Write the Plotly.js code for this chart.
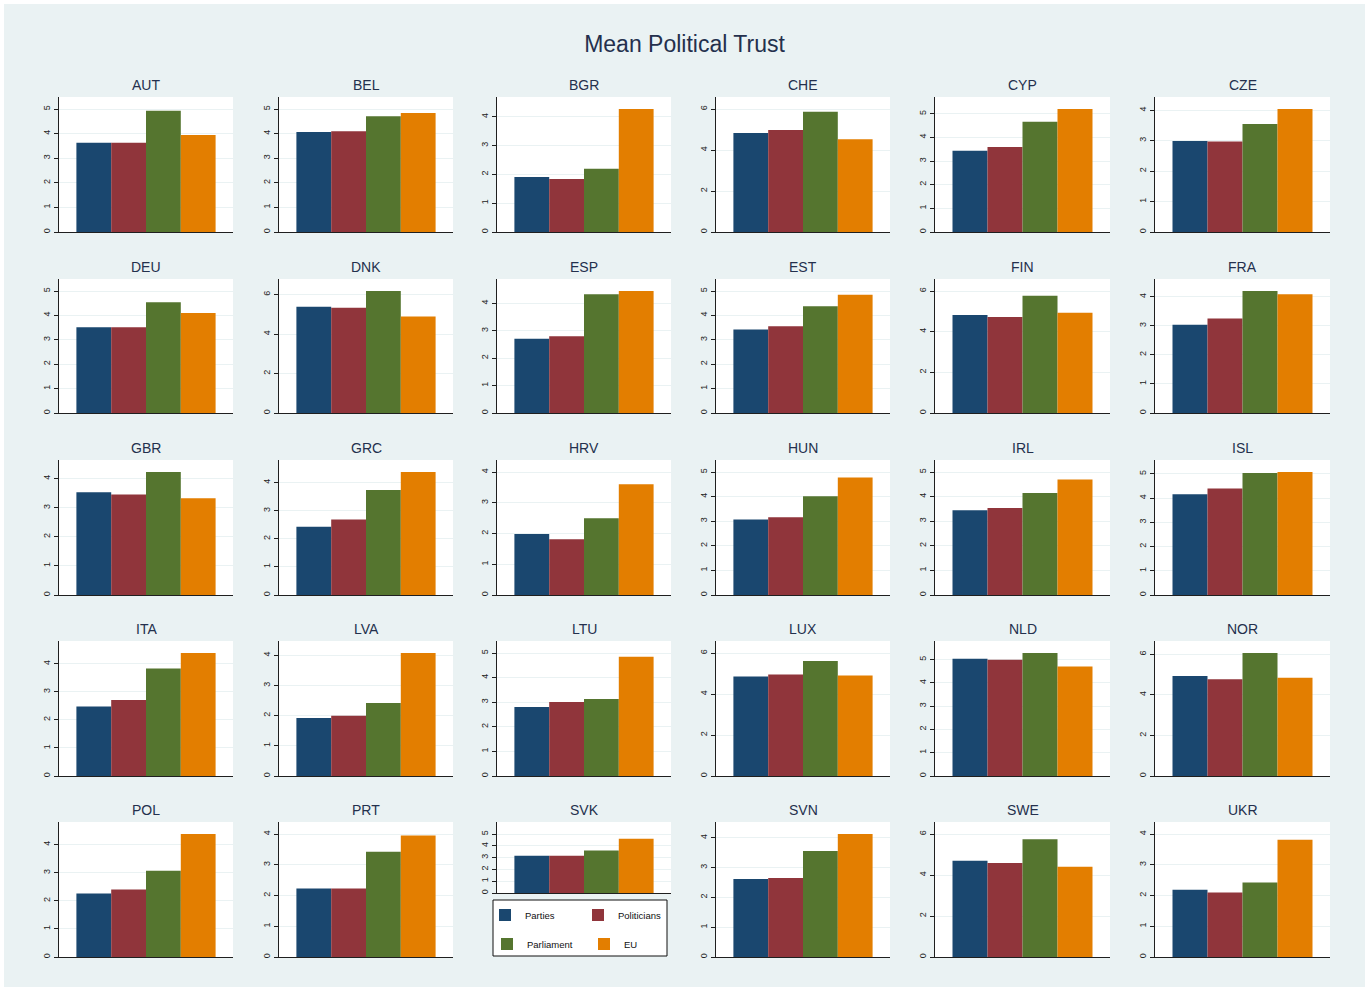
<!DOCTYPE html>
<html>
<head>
<meta charset="utf-8">
<script src="https://cdn.plot.ly/plotly-3.0.1.min.js"></script>
<style>
  html, body { margin:0; padding:0; background:#ffffff; }
  #chart { position:absolute; left:4px; top:4px; width:1361px; height:983px; }
</style>
</head>
<body>
<div id="chart"></div>
<script>
// ---- Data ----
const countries = ['AUT','BEL','BGR','CHE','CYP','CZE',
                   'DEU','DNK','ESP','EST','FIN','FRA',
                   'GBR','GRC','HRV','HUN','IRL','ISL',
                   'ITA','LVA','LTU','LUX','NLD','NOR',
                   'POL','PRT','SVK','SVN','SWE','UKR'];
const parties     = [3.63,4.06,1.91,4.83,3.44,2.99, 3.51,5.38,2.71,3.42,4.82,3.04, 3.53,2.43,1.98,3.07,3.45,4.16, 2.48,1.92,2.80,4.85,5.03,4.93, 2.26,2.23,3.15,2.62,4.69,2.19];
const politicians = [3.63,4.10,1.84,4.98,3.59,2.97, 3.51,5.33,2.80,3.56,4.72,3.25, 3.46,2.69,1.81,3.16,3.54,4.40, 2.71,2.00,3.01,4.95,4.99,4.78, 2.40,2.23,3.15,2.65,4.59,2.10];
const parliament  = [4.93,4.71,2.20,5.86,4.66,3.55, 4.54,6.18,4.33,4.37,5.77,4.20, 4.23,3.74,2.50,4.01,4.15,5.04, 3.84,2.42,3.13,5.61,5.28,6.07, 3.07,3.42,3.61,3.56,5.75,2.42];
const eu          = [3.94,4.84,4.27,4.52,5.20,4.04, 4.10,4.89,4.45,4.85,4.93,4.09, 3.33,4.38,3.60,4.78,4.70,5.08, 4.39,4.08,4.85,4.90,4.70,4.85, 4.38,3.95,4.60,4.13,4.40,3.81];
const seriesNames = ['Parties','Politicians','Parliament','EU'];
const chartTitle = 'Mean Political Trust';

// ---- Styling / layout ----
const seriesColors = ['#1a476f','#90353b','#55752f','#e37e00'];
const seriesData = [parties, politicians, parliament, eu];
const W = 1361, H = 983, OX = 4, OY = 4;
const fx = X => (X - OX) / W;
const fy = Y => 1 - (Y - OY) / H;
const colX = [[59,233],[279,453],[497,671],[716,890],[935,1110],[1155,1330]];
const rowY = [[97,232],[279,413],[460,595],[641,776],[822,957]];
const narrow = '"Liberation Sans Narrow", "Arial Narrow", "Liberation Sans", Arial, sans-serif';
const sans = '"Liberation Sans", Arial, sans-serif';
const titleColor = '#24304d';

const traces = [];
const layout = {
  width: W, height: H,
  margin: {l:0, r:0, t:0, b:0},
  paper_bgcolor: '#eaf2f3',
  plot_bgcolor: '#ffffff',
  barmode: 'group',
  bargap: 0.2,
  bargroupgap: 0,
  showlegend: true,
  title: {text: chartTitle, x: 0.5, xanchor: 'center', y: fy(44), yanchor: 'middle',
          font: {family: narrow, size: 23, color: titleColor}},
  annotations: [],
  shapes: []
};

countries.forEach((cty, i) => {
  const r = Math.floor(i / 6), c = i % 6;
  const id = i === 0 ? '' : String(i + 1);
  const x0 = colX[c][0], x1 = colX[c][1];
  let y0 = rowY[r][0], y1 = rowY[r][1];
  if (cty === 'SVK') { y1 = 893; }
  const vals = seriesData.map(s => s[i]);
  const dmax = Math.max(...vals);
  const dtick = dmax > 5.5 ? 2 : 1;
  const topTick = Math.round(dmax / dtick) * dtick;
  const M = Math.max(topTick, dmax);
  const hpx = y1 - y0;
  const top = M * hpx / (hpx - 12);
  const tv = [];
  for (let t = 0; t <= topTick + 1e-9; t += dtick) tv.push(t);

  layout['xaxis' + id] = {
    domain: [fx(x0), fx(x1)], anchor: 'y' + id, type: 'category',
    showticklabels: false, ticks: '', showline: true, linecolor: '#1f1f1f', linewidth: 1,
    showgrid: false, zeroline: false, fixedrange: true
  };
  layout['yaxis' + id] = {
    domain: [fy(y1), fy(y0)], anchor: 'x' + id, range: [0, top],
    tickmode: 'array', tickvals: tv, ticktext: tv.map(String),
    showline: true, linecolor: '#1f1f1f', linewidth: 1,
    ticks: 'outside', ticklen: 4, tickcolor: '#1f1f1f', tickangle: -90,
    tickfont: {family: sans, size: 9, color: '#222'},
    showgrid: true, gridcolor: '#eaf2f3', gridwidth: 1, zeroline: false, fixedrange: true
  };
  layout.annotations.push({
    text: cty, xref: 'paper', yref: 'paper',
    x: (fx(x0) + fx(x1)) / 2, y: fy(y0), xanchor: 'center', yanchor: 'bottom', yshift: 2,
    showarrow: false, font: {family: narrow, size: 14, color: titleColor}
  });
  seriesNames.forEach((nm, s) => {
    traces.push({
      type: 'bar', name: nm, x: [cty], y: [seriesData[s][i]],
      xaxis: 'x' + id, yaxis: 'y' + id,
      marker: {color: seriesColors[s], line: {width: 0}},
      showlegend: i === 0,
      legend: s === 0 ? 'legend' : ('legend' + (s + 1)),
      hovertemplate: cty + ' ' + nm + ': %{y:.2f}<extra></extra>'
    });
  });
});

// legend box (2 x 2 grid)
layout.shapes.push({type: 'rect', xref: 'paper', yref: 'paper', layer: 'below',
  x0: fx(493), x1: fx(667), y0: fy(956), y1: fy(900),
  line: {color: '#111', width: 1}, fillcolor: '#ffffff'});
const legPos = [[485, 915], [578, 915], [487, 944], [584, 944]];
['legend','legend2','legend3','legend4'].forEach((k, j) => {
  layout[k] = {x: fx(legPos[j][0]), y: fy(legPos[j][1]), xanchor: 'left', yanchor: 'middle',
    orientation: 'h', bgcolor: 'rgba(0,0,0,0)', borderwidth: 0,
    font: {family: narrow, size: 9.5, color: '#111'}, itemclick: false, itemdoubleclick: false};
});

Plotly.newPlot('chart', traces, layout, {displayModeBar: false, staticPlot: false});
</script>
</body>
</html>
